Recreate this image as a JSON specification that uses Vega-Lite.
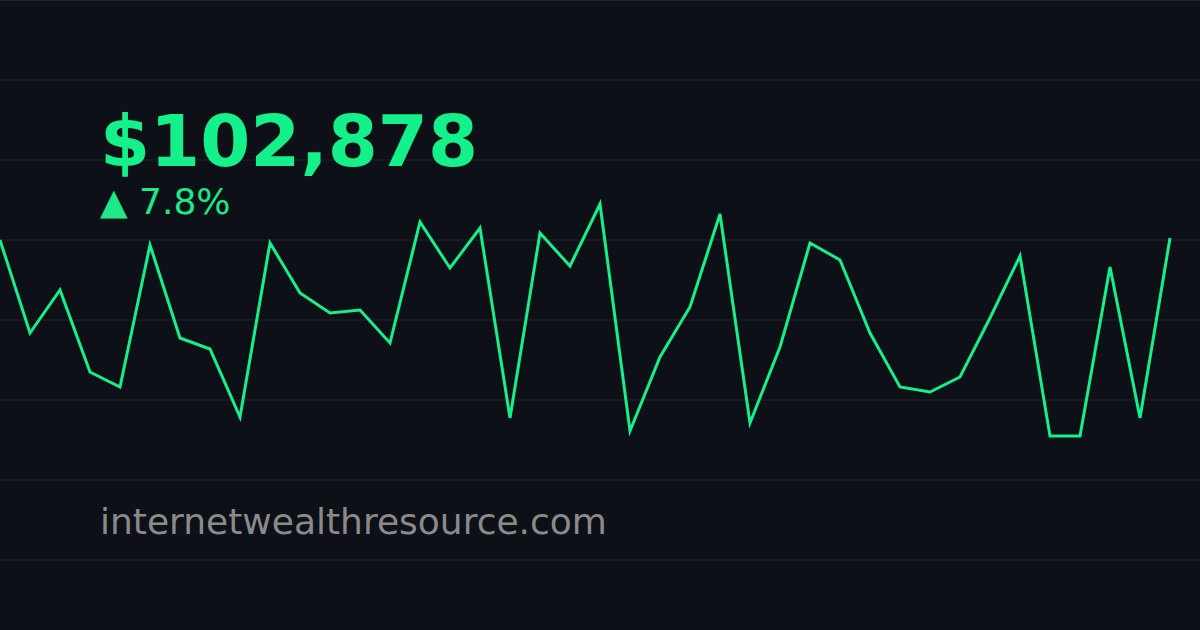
{
  "$schema": "https://vega.github.io/schema/vega-lite/v6.json",
  "width": 1200,
  "height": 630,
  "autosize": {"type": "none"},
  "padding": 0,
  "background": "#0d1117",
  "config": {"view": {"stroke": null}},
  "layer": [
    {
      "data": {"values": [{"g": 70}, {"g": 150}, {"g": 230}, {"g": 310}, {"g": 390}, {"g": 470}, {"g": 550}, {"g": 629.5}]},
      "mark": {"type": "rule", "color": "#1f242b", "strokeWidth": 1},
      "encoding": {"y": {"field": "g", "type": "quantitative", "scale": {"domain": [0, 630], "nice": false, "zero": false}, "axis": null}}
    },
    {
      "data": {"values": [
        {"i": 0, "v": 390}, {"i": 1, "v": 297}, {"i": 2, "v": 340}, {"i": 3, "v": 258},
        {"i": 4, "v": 243}, {"i": 5, "v": 385}, {"i": 6, "v": 292}, {"i": 7, "v": 281},
        {"i": 8, "v": 213}, {"i": 9, "v": 387}, {"i": 10, "v": 337}, {"i": 11, "v": 317},
        {"i": 12, "v": 320}, {"i": 13, "v": 287}, {"i": 14, "v": 408}, {"i": 15, "v": 362},
        {"i": 16, "v": 402}, {"i": 17, "v": 212}, {"i": 18, "v": 397}, {"i": 19, "v": 364},
        {"i": 20, "v": 426}, {"i": 21, "v": 199}, {"i": 22, "v": 273}, {"i": 23, "v": 323},
        {"i": 24, "v": 416}, {"i": 25, "v": 207}, {"i": 26, "v": 283}, {"i": 27, "v": 387},
        {"i": 28, "v": 370}, {"i": 29, "v": 297}, {"i": 30, "v": 243}, {"i": 31, "v": 238},
        {"i": 32, "v": 253}, {"i": 33, "v": 312}, {"i": 34, "v": 374}, {"i": 35, "v": 194},
        {"i": 36, "v": 194}, {"i": 37, "v": 363}, {"i": 38, "v": 212}, {"i": 39, "v": 392}
      ]},
      "mark": {"type": "line", "color": "#17ef8b", "strokeWidth": 3, "strokeJoin": "miter"},
      "encoding": {
        "x": {"field": "i", "type": "quantitative", "scale": {"domain": [0, 40], "nice": false, "zero": false}, "axis": null},
        "y": {"field": "v", "type": "quantitative", "axis": null}
      }
    },
    {
      "data": {"values": [{}]},
      "mark": {"type": "text", "text": "$102,878", "font": "DejaVu Sans", "fontWeight": "bold", "fontSize": 72, "color": "#14f08a", "align": "left", "baseline": "alphabetic"},
      "encoding": {"x": {"datum": 3.333, "type": "quantitative"}, "y": {"datum": 464, "type": "quantitative"}}
    },
    {
      "data": {"values": [{}]},
      "mark": {"type": "text", "text": "▲ 7.8%", "font": "DejaVu Sans", "fontWeight": "normal", "fontSize": 36, "color": "#1ee88a", "align": "left", "baseline": "alphabetic"},
      "encoding": {"x": {"datum": 3.333, "type": "quantitative"}, "y": {"datum": 416, "type": "quantitative"}}
    },
    {
      "data": {"values": [{}]},
      "mark": {"type": "text", "text": "internetwealthresource.com", "font": "DejaVu Sans", "fontSize": 36, "color": "#8a8a8a", "align": "left", "baseline": "alphabetic"},
      "encoding": {"x": {"datum": 3.333, "type": "quantitative"}, "y": {"datum": 96, "type": "quantitative"}}
    }
  ]
}
